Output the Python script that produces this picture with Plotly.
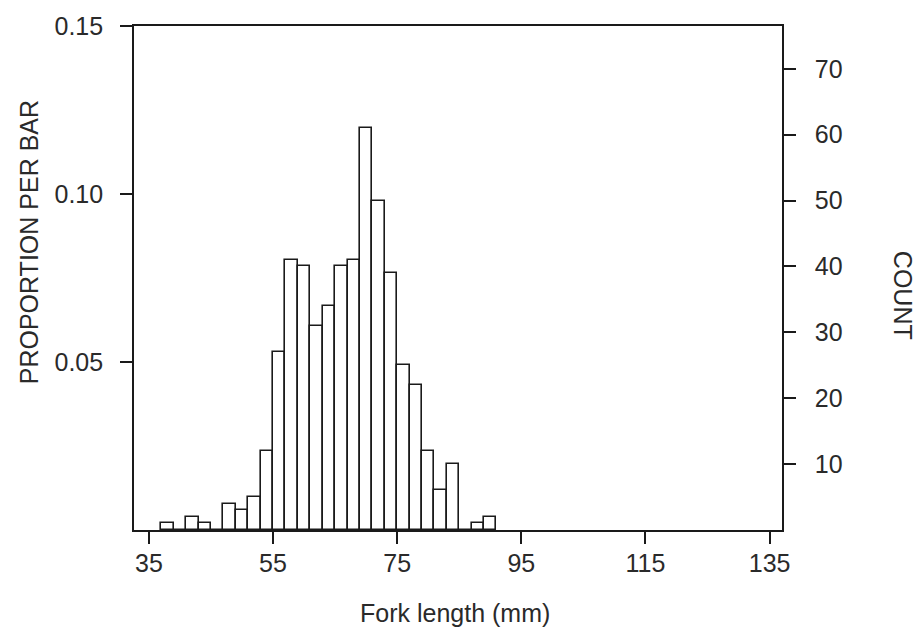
import plotly.graph_objects as go

# Bin left edges (mm), 2 mm wide bins
bin_left = [37, 39, 41, 43, 45, 47, 49, 51, 53, 55, 57, 59, 61, 63, 65, 67,
            69, 71, 73, 75, 77, 79, 81, 83, 85, 87, 89]
counts = [1, 0, 2, 1, 0, 4, 3, 5, 12, 27, 41, 40, 31, 34, 40, 41,
          61, 50, 39, 25, 22, 12, 6, 10, 0, 1, 2]
bin_width = 2
N = sum(counts)

x_ticks = [35, 55, 75, 95, 115, 135]
prop_ticks = [0.05, 0.10, 0.15]
count_ticks = [10, 20, 30, 40, 50, 60, 70]

centers = [b + bin_width / 2 for b in bin_left]
props = [c / N for c in counts]

FONT = "Liberation Sans, Arial, Helvetica, sans-serif"
INK = "#1a1a1a"
TXT = "#2a2a2a"
FS = 25

fig = go.Figure()
fig.add_trace(go.Bar(
    x=centers, y=props, width=[bin_width] * len(centers),
    marker=dict(color="white", line=dict(color=INK, width=1.6)),
    yaxis="y", showlegend=False, hoverinfo="skip"))
fig.add_trace(go.Scatter(
    x=[centers[0]], y=[counts[0]], mode="markers",
    marker=dict(opacity=0), yaxis="y2", showlegend=False, hoverinfo="skip"))

fig.update_layout(
    width=919, height=628,
    margin=dict(l=134, r=137, t=22, b=98),
    paper_bgcolor="white", plot_bgcolor="white",
    font=dict(family=FONT, size=FS, color=TXT),
    bargap=0,
    xaxis=dict(range=[32.6, 137], tickvals=x_ticks, ticks="outside", ticklen=12,
               tickwidth=1.5, tickcolor=INK, showline=True, linecolor=INK,
               linewidth=1.6, mirror=True, showgrid=False, zeroline=False,
               ticklabelstandoff=-2),
    yaxis=dict(range=[0, 0.15], tickvals=prop_ticks, tickformat=".2f",
               ticks="outside", ticklen=12, tickwidth=1.5, tickcolor=INK,
               showline=True, linecolor=INK, linewidth=1.6, showgrid=False,
               zeroline=False, ticklabelstandoff=12),
    yaxis2=dict(range=[0, 0.15 * N], tickvals=count_ticks, overlaying="y",
                side="right", ticks="outside", ticklen=12, tickwidth=1.5,
                tickcolor=INK, showline=True, linecolor=INK, linewidth=1.6,
                showgrid=False, zeroline=False, ticklabelstandoff=14),
    annotations=[
        dict(text="Fork length (mm)", xref="paper", yref="paper",
             x=(455 - 134) / 648, y=-(614 - 530) / 508, showarrow=False,
             xanchor="center", yanchor="middle", font=dict(size=FS)),
        dict(text="PROPORTION PER BAR", xref="paper", yref="paper",
             x=-(134 - 29) / 648, y=(530 - 240) / 508, showarrow=False,
             textangle=-90, xanchor="center", yanchor="middle",
             font=dict(size=FS)),
        dict(text="COUNT", xref="paper", yref="paper",
             x=(903 - 134) / 648, y=(530 - 293) / 508, showarrow=False,
             textangle=90, xanchor="center", yanchor="middle",
             font=dict(size=FS)),
    ],
)

fig.write_html(
    "out.html",
    config={"displayModeBar": False},
    post_script="document.body.style.margin='0';document.body.style.padding='0';"
                "document.body.style.overflow='hidden';",
)
